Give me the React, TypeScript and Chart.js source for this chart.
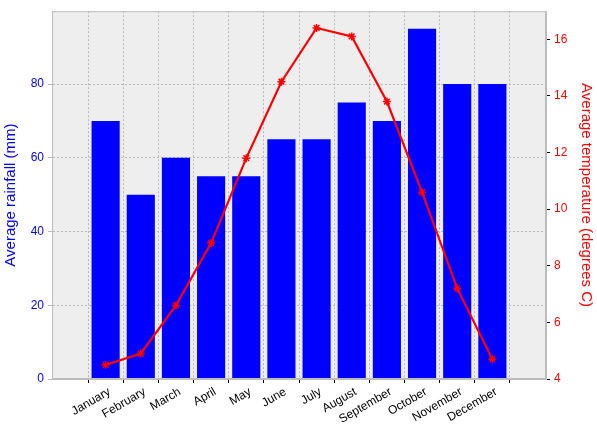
import React, { useEffect, useRef } from "react";
import Chart from "chart.js/auto";

const months = ["January", "February", "March", "April", "May", "June", "July", "August", "September", "October", "November", "December"];
const rainfall = [70, 50, 60, 55, 55, 65, 65, 75, 70, 95, 80, 80];
const temperature = [4.5, 4.9, 6.6, 8.8, 11.8, 14.5, 16.4, 16.1, 13.8, 10.6, 7.2, 4.7];

const FONT = "'Liberation Sans', Arial, sans-serif";

const bgPlugin = {
  id: "plotBg",
  beforeDraw(chart: any) {
    const { ctx, chartArea: a } = chart;
    ctx.save();
    ctx.fillStyle = "#eeeeee";
    ctx.fillRect(a.left, a.top, a.right - a.left, a.bottom - a.top);
    ctx.restore();
  },
  afterDraw(chart: any) {
    const { ctx, chartArea: a } = chart;
    ctx.save();
    ctx.strokeStyle = "#bcbcbc";
    ctx.lineWidth = 1;
    ctx.strokeRect(a.left + 0.5, a.top + 0.5, a.right - a.left - 1, a.bottom - a.top - 1);
    // rotated month labels, centred on ticks like matplotlib
    const xs = chart.scales.x;
    ctx.fillStyle = "#000";
    ctx.font = `12px ${FONT}`;
    ctx.textAlign = "center";
    ctx.textBaseline = "middle";
    months.forEach((m, i) => {
      const px = xs.getPixelForValue(i);
      const w = ctx.measureText(m).width;
      const ang = (-30 * Math.PI) / 180;
      // place so the label's upper-right end sits just below the tick
      const cx = px - (w / 2) * Math.cos(ang) + 4;
      const cy = a.bottom + 8 + (w / 2) * Math.sin(-ang) + 4;
      ctx.save();
      ctx.translate(cx - (px - cx) * 0 , cy);
      ctx.rotate(ang);
      ctx.fillText(m, 0, 0);
      ctx.restore();
    });
    ctx.restore();
  },
};

export default function App() {
  const ref = useRef<HTMLCanvasElement>(null);

  useEffect(() => {
    document.body.style.margin = "0";
    if (!ref.current) return;
    const chart = new Chart(ref.current, {
      type: "bar",
      data: {
        datasets: [
          {
            type: "line",
            data: temperature.map((t, i) => ({ x: i, y: t })),
            yAxisID: "y2",
            borderColor: "#ff0000",
            backgroundColor: "#ff0000",
            borderWidth: 2.2,
            pointStyle: "star",
            pointRadius: 4,
            pointBorderWidth: 1.5,
            order: 0,
          } as any,
          {
            data: rainfall.map((r, i) => ({ x: i, y: r })),
            yAxisID: "y",
            backgroundColor: "#0000ff",
            barPercentage: 0.8,
            categoryPercentage: 1,
            order: 1,
          },
        ],
      },
      options: {
        animation: false,
        responsive: false,
        layout: { padding: { top: 10, right: 0, left: 0, bottom: 0 } },
        plugins: { legend: { display: false }, tooltip: { enabled: false } },
        scales: {
          x: {
            type: "linear",
            min: -0.94,
            max: 11.94,
            afterBuildTicks: (s: any) => { s.ticks = months.map((_, i) => ({ value: i })); },
            afterFit: (s: any) => { s.height = 61; },
            ticks: { display: false },
            grid: { color: "#b8b8b8", tickColor: "#000", tickLength: 4 },
            border: { dash: [2, 2], color: "#bcbcbc" },
          },
          y: {
            position: "left",
            min: 0,
            max: 99.75,
            afterBuildTicks: (s: any) => { s.ticks = [0, 20, 40, 60, 80].map((v) => ({ value: v })); },
            afterFit: (s: any) => { s.width = 52; },
            ticks: { color: "#0000ff", font: { family: FONT, size: 12 }, padding: 4 },
            title: { display: true, text: "Average rainfall (mm)", color: "#0000ff", font: { family: FONT, size: 15 }, padding: 2 },
            grid: { color: "#b8b8b8", tickLength: 4 },
            border: { dash: [2, 2], color: "#bcbcbc" },
          },
          y2: {
            position: "right",
            min: 4,
            max: 16.99,
            afterBuildTicks: (s: any) => { s.ticks = [4, 6, 8, 10, 12, 14, 16].map((v) => ({ value: v })); },
            afterFit: (s: any) => { s.width = 51; },
            ticks: { color: "#ff0000", font: { family: FONT, size: 12 }, padding: 4 },
            title: { display: true, text: "Average temperature (degrees C)", color: "#ff0000", font: { family: FONT, size: 15 }, padding: 2 },
            grid: { drawOnChartArea: false, tickLength: 4, color: "#000" },
            border: { color: "#bcbcbc" },
          },
        },
      } as any,
      plugins: [bgPlugin],
    });
    return () => chart.destroy();
  }, []);

  return <canvas ref={ref} width={597} height={440} style={{ display: "block" }} />;
}
